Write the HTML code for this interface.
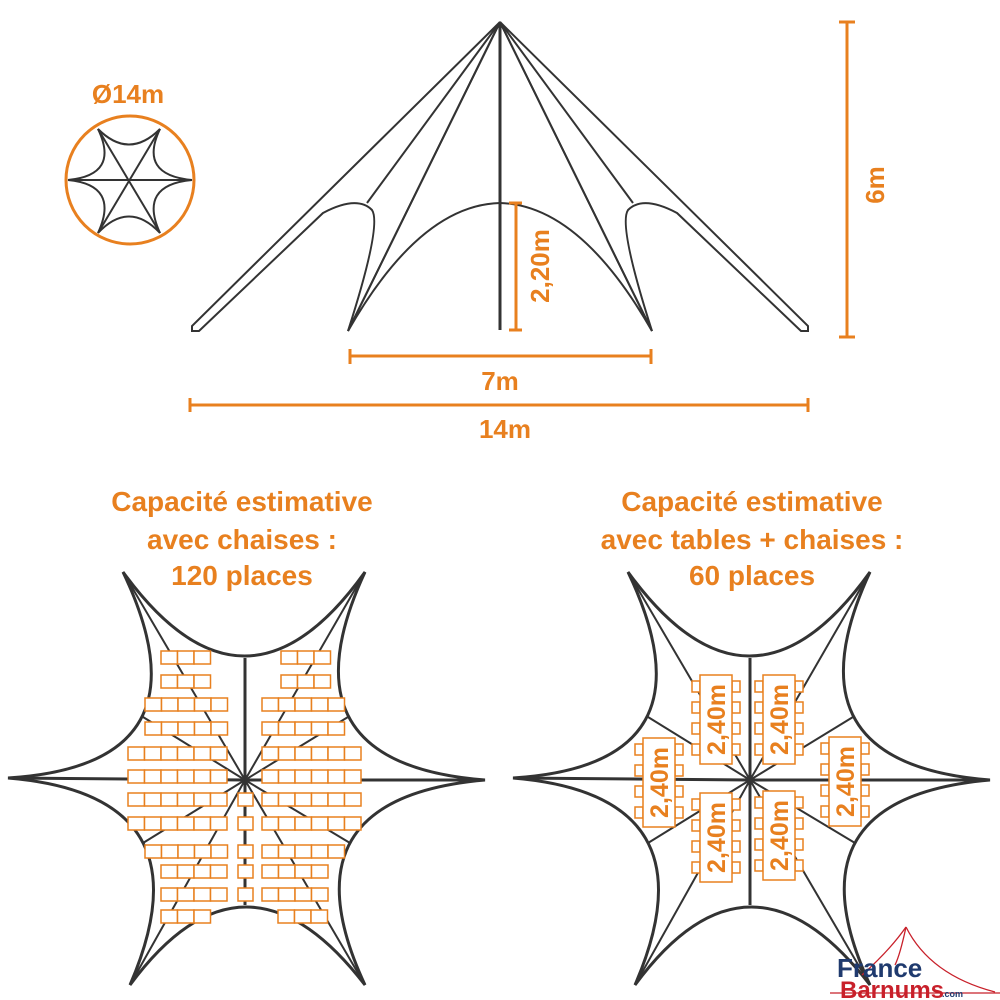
<!DOCTYPE html>
<html><head><meta charset="utf-8"><style>
html,body{margin:0;padding:0;background:#fff;}
svg{display:block;}
.o{font-family:"Liberation Sans",sans-serif;font-weight:bold;fill:#e8801f;}
</style></head><body>
<svg width="1000" height="1000" viewBox="0 0 1000 1000" xmlns="http://www.w3.org/2000/svg">
<defs>
<g id="star">
<path d="M8,778 Q215,765 123,572 Q245,740 365,572 Q276,764 485,780 Q278,798 365,985 Q245,829 130,985 Q212,795 8,778 Z" fill="none" stroke="#333" stroke-width="3"/>
<g stroke="#333" stroke-width="2">
<line x1="245" y1="780" x2="8" y2="778" stroke-width="3"/>
<line x1="245" y1="780" x2="485" y2="780" stroke-width="3"/>
<line x1="245" y1="780" x2="245" y2="658" stroke-width="3"/>
<line x1="245" y1="780" x2="245" y2="905" stroke-width="3"/>
<line x1="245" y1="780" x2="123" y2="572"/>
<line x1="245" y1="780" x2="365" y2="572"/>
<line x1="245" y1="780" x2="130" y2="985"/>
<line x1="245" y1="780" x2="365" y2="985"/>
<line x1="245" y1="780" x2="143" y2="717"/>
<line x1="245" y1="780" x2="348" y2="717"/>
<line x1="245" y1="780" x2="143" y2="843"/>
<line x1="245" y1="780" x2="350" y2="843"/>
</g>
</g>
<rect id="c" width="16.5" height="13" fill="#fff" stroke="#e8801f" stroke-width="1.5"/>
<rect id="s" width="8" height="11" fill="#fff" stroke="#e8801f" stroke-width="1.5"/>
<g id="tb">
<use href="#s" x="-8" y="6"/><use href="#s" x="-8" y="27"/><use href="#s" x="-8" y="48"/><use href="#s" x="-8" y="69"/>
<use href="#s" x="32" y="6"/><use href="#s" x="32" y="27"/><use href="#s" x="32" y="48"/><use href="#s" x="32" y="69"/>
<rect width="32" height="89" fill="#fff" stroke="#e8801f" stroke-width="1.5"/>
<text class="o" font-size="25" text-anchor="middle" transform="translate(25,44.5) rotate(-90)">2,40m</text>
</g>
</defs>

<g fill="none" stroke="#333" stroke-width="2">
<line x1="500" y1="22" x2="500" y2="330" stroke-width="3"/>
<path d="M500,22 L192,326 L192,331 L199,331 L323,213 Q357,195 372,210 Q382,225 348,331 Z"/>
<line x1="500" y1="22" x2="367" y2="203"/>
<line x1="500" y1="22" x2="348" y2="331"/>
<path d="M348,331 Q420,205 500,203 Q580,205 652,331"/>
<path d="M500,22 L808,326 L808,331 L801,331 L677,213 Q643,195 628,210 Q618,225 652,331 Z"/>
<line x1="500" y1="22" x2="633" y2="203"/>
<line x1="500" y1="22" x2="652" y2="331"/>
</g>
<g stroke="#e8801f" stroke-width="3" fill="none">
<line x1="516" y1="203" x2="516" y2="330"/>
<line x1="509" y1="203" x2="522" y2="203"/>
<line x1="509" y1="330" x2="522" y2="330"/>
<line x1="350" y1="356" x2="651" y2="356"/>
<line x1="350" y1="349" x2="350" y2="364"/>
<line x1="651" y1="349" x2="651" y2="364"/>
<line x1="190" y1="405" x2="808" y2="405"/>
<line x1="190" y1="398" x2="190" y2="412"/>
<line x1="808" y1="398" x2="808" y2="412"/>
<line x1="847" y1="22" x2="847" y2="337"/>
<line x1="839" y1="22" x2="855" y2="22"/>
<line x1="839" y1="337" x2="855" y2="337"/>
</g>
<text class="o" font-size="26" transform="translate(549,266) rotate(-90)" text-anchor="middle">2,20m</text>
<text class="o" font-size="26" x="500" y="390" text-anchor="middle">7m</text>
<text class="o" font-size="26" x="505" y="438" text-anchor="middle">14m</text>
<text class="o" font-size="26" transform="translate(884,185) rotate(-90)" text-anchor="middle">6m</text>

<text class="o" font-size="26" x="128" y="103" text-anchor="middle">Ø14m</text>
<circle cx="130" cy="180" r="64" fill="none" stroke="#e8801f" stroke-width="3"/>
<g fill="none" stroke="#333" stroke-width="2">
<path d="M68,180 Q120,175 98,129 Q129,160 160,129 Q138,175 192,180 Q138,185 160,233 Q129,200 98,233 Q120,185 68,180 Z"/>
<line x1="68" y1="180" x2="192" y2="180"/>
<line x1="98" y1="129" x2="160" y2="233"/>
<line x1="160" y1="129" x2="98" y2="233"/>
</g>

<g class="o" font-size="28" text-anchor="middle">
<text x="242" y="511">Capacité estimative</text>
<text x="242" y="549">avec chaises :</text>
<text x="242" y="585">120 places</text>
<text x="752" y="511">Capacité estimative</text>
<text x="752" y="549">avec tables + chaises :</text>
<text x="752" y="585">60 places</text>
</g>

<use href="#star"/>
<use href="#star" transform="translate(505,0)"/>

<g>
<use href="#c" x="161" y="651"/><use href="#c" x="177.5" y="651"/><use href="#c" x="194" y="651"/>
<use href="#c" x="281" y="651"/><use href="#c" x="297.5" y="651"/><use href="#c" x="314" y="651"/>
<use href="#c" x="161" y="675"/><use href="#c" x="177.5" y="675"/><use href="#c" x="194" y="675"/>
<use href="#c" x="281" y="675"/><use href="#c" x="297.5" y="675"/><use href="#c" x="314" y="675"/>

<use href="#c" x="145" y="698"/><use href="#c" x="161.5" y="698"/><use href="#c" x="178" y="698"/><use href="#c" x="194.5" y="698"/><use href="#c" x="211" y="698"/>
<use href="#c" x="262" y="698"/><use href="#c" x="278.5" y="698"/><use href="#c" x="295" y="698"/><use href="#c" x="311.5" y="698"/><use href="#c" x="328" y="698"/>
<use href="#c" x="145" y="722"/><use href="#c" x="161.5" y="722"/><use href="#c" x="178" y="722"/><use href="#c" x="194.5" y="722"/><use href="#c" x="211" y="722"/>
<use href="#c" x="262" y="722"/><use href="#c" x="278.5" y="722"/><use href="#c" x="295" y="722"/><use href="#c" x="311.5" y="722"/><use href="#c" x="328" y="722"/>

<use href="#c" x="128" y="747"/><use href="#c" x="144.5" y="747"/><use href="#c" x="161" y="747"/><use href="#c" x="177.5" y="747"/><use href="#c" x="194" y="747"/><use href="#c" x="210.5" y="747"/>
<use href="#c" x="262" y="747"/><use href="#c" x="278.5" y="747"/><use href="#c" x="295" y="747"/><use href="#c" x="311.5" y="747"/><use href="#c" x="328" y="747"/><use href="#c" x="344.5" y="747"/>
<use href="#c" x="128" y="770"/><use href="#c" x="144.5" y="770"/><use href="#c" x="161" y="770"/><use href="#c" x="177.5" y="770"/><use href="#c" x="194" y="770"/><use href="#c" x="210.5" y="770"/>
<use href="#c" x="262" y="770"/><use href="#c" x="278.5" y="770"/><use href="#c" x="295" y="770"/><use href="#c" x="311.5" y="770"/><use href="#c" x="328" y="770"/><use href="#c" x="344.5" y="770"/>
<use href="#c" x="128" y="793"/><use href="#c" x="144.5" y="793"/><use href="#c" x="161" y="793"/><use href="#c" x="177.5" y="793"/><use href="#c" x="194" y="793"/><use href="#c" x="210.5" y="793"/>
<use href="#c" x="262" y="793"/><use href="#c" x="278.5" y="793"/><use href="#c" x="295" y="793"/><use href="#c" x="311.5" y="793"/><use href="#c" x="328" y="793"/><use href="#c" x="344.5" y="793"/>
<use href="#c" x="128" y="817"/><use href="#c" x="144.5" y="817"/><use href="#c" x="161" y="817"/><use href="#c" x="177.5" y="817"/><use href="#c" x="194" y="817"/><use href="#c" x="210.5" y="817"/>
<use href="#c" x="262" y="817"/><use href="#c" x="278.5" y="817"/><use href="#c" x="295" y="817"/><use href="#c" x="311.5" y="817"/><use href="#c" x="328" y="817"/><use href="#c" x="344.5" y="817"/>

<use href="#c" x="145" y="845"/><use href="#c" x="161.5" y="845"/><use href="#c" x="178" y="845"/><use href="#c" x="194.5" y="845"/><use href="#c" x="211" y="845"/>
<use href="#c" x="262" y="845"/><use href="#c" x="278.5" y="845"/><use href="#c" x="295" y="845"/><use href="#c" x="311.5" y="845"/><use href="#c" x="328" y="845"/>

<use href="#c" x="161" y="865"/><use href="#c" x="177.5" y="865"/><use href="#c" x="194" y="865"/><use href="#c" x="210.5" y="865"/>
<use href="#c" x="262" y="865"/><use href="#c" x="278.5" y="865"/><use href="#c" x="295" y="865"/><use href="#c" x="311.5" y="865"/>
<use href="#c" x="161" y="888"/><use href="#c" x="177.5" y="888"/><use href="#c" x="194" y="888"/><use href="#c" x="210.5" y="888"/>
<use href="#c" x="262" y="888"/><use href="#c" x="278.5" y="888"/><use href="#c" x="295" y="888"/><use href="#c" x="311.5" y="888"/>

<use href="#c" x="161" y="910"/><use href="#c" x="177.5" y="910"/><use href="#c" x="194" y="910"/>
<use href="#c" x="278" y="910"/><use href="#c" x="294.5" y="910"/><use href="#c" x="311" y="910"/>

<rect x="238" y="793" width="15" height="13" fill="#fff" stroke="#e8801f" stroke-width="1.5"/>
<rect x="238" y="817" width="15" height="13" fill="#fff" stroke="#e8801f" stroke-width="1.5"/>
<rect x="238" y="845" width="15" height="13" fill="#fff" stroke="#e8801f" stroke-width="1.5"/>
<rect x="238" y="865" width="15" height="13" fill="#fff" stroke="#e8801f" stroke-width="1.5"/>
<rect x="238" y="888" width="15" height="13" fill="#fff" stroke="#e8801f" stroke-width="1.5"/>
</g>

<use href="#tb" transform="translate(700,675)"/>
<use href="#tb" transform="translate(763,675)"/>
<use href="#tb" transform="translate(643,738)"/>
<use href="#tb" transform="translate(829,737)"/>
<use href="#tb" transform="translate(700,793)"/>
<use href="#tb" transform="translate(763,791)"/>

<g fill="none" stroke="#c8202a" stroke-width="1.3">
<path d="M906,927 Q890,950 862,975"/>
<path d="M906,927 Q930,975 995,992"/>
<path d="M906,927 Q900,955 895,965"/>
<line x1="830" y1="993" x2="1000" y2="993"/>
</g>
<text x="837" y="977" font-family="Liberation Sans,sans-serif" font-weight="bold" font-size="26" fill="#1f3a6e">France</text>
<text x="840" y="998" font-family="Liberation Sans,sans-serif" font-weight="bold" font-size="24" fill="#c8202a">Barnums</text>
<text x="942" y="997" font-family="Liberation Sans,sans-serif" font-weight="bold" font-size="9" fill="#1f3a6e">.com</text>
</svg>
</body></html>
